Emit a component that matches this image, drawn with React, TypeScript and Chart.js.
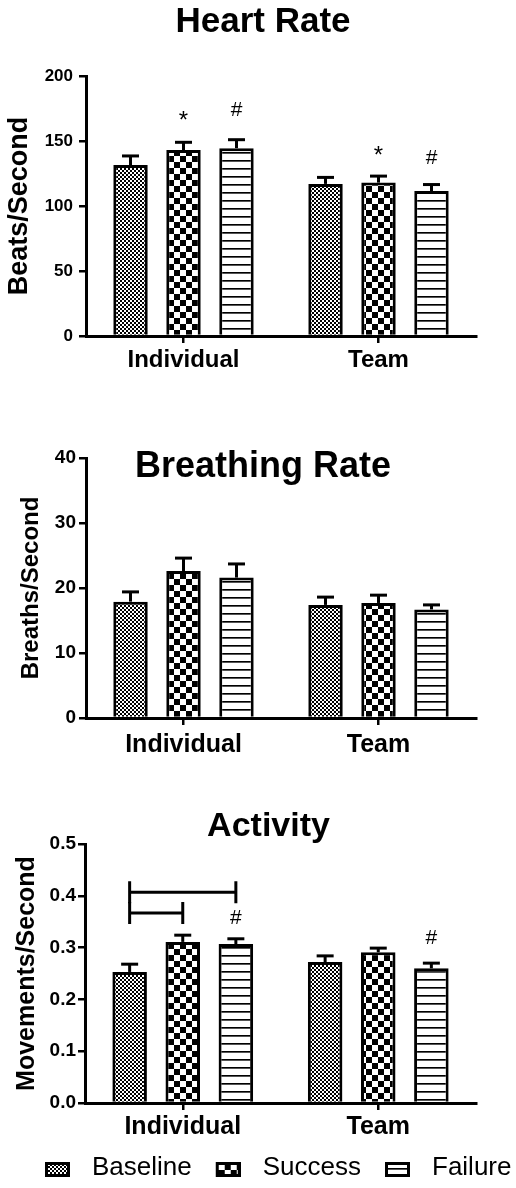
import React, { useEffect, useRef } from "react";
import { Chart, registerables } from "chart.js";

Chart.register(...registerables);

const FONT = "'Liberation Sans', Arial, Helvetica, sans-serif";

const categories = ["Individual", "Team"];
const seriesNames = ["Baseline", "Success", "Failure"];

// Heart rate
const hrBaseline = [131.5, 117];
const hrSuccess = [143, 118];
const hrFailure = [144.5, 111.5];
const hrBaselineErr = [7, 5];
const hrSuccessErr = [6, 5];
const hrFailureErr = [6.5, 5];
const hrTicks = [0, 50, 100, 150, 200];
const hrMarkers = [
  { series: 1, cat: 0, text: "*", value: 165 },
  { series: 2, cat: 0, text: "#", value: 174 },
  { series: 1, cat: 1, text: "*", value: 138 },
  { series: 2, cat: 1, text: "#", value: 137 },
];

// Breathing rate
const brBaseline = [17.9, 17.4];
const brSuccess = [22.6, 17.7];
const brFailure = [21.6, 16.7];
const brBaselineErr = [1.5, 1.2];
const brSuccessErr = [2.0, 1.2];
const brFailureErr = [2.1, 0.7];
const brTicks = [0, 10, 20, 30, 40];

// Activity
const acBaseline = [0.253, 0.272];
const acSuccess = [0.311, 0.291];
const acFailure = [0.307, 0.26];
const acBaselineErr = [0.015, 0.012];
const acSuccessErr = [0.013, 0.008];
const acFailureErr = [0.01, 0.01];
const acTicks = [0, 0.1, 0.2, 0.3, 0.4, 0.5];
const acMarkers = [
  { series: 2, cat: 0, text: "#", value: 0.357 },
  { series: 2, cat: 1, text: "#", value: 0.318 },
];
const acBrackets = [
  { cat: 0, from: 0, to: 1, value: 0.367 },
  { cat: 0, from: 0, to: 2, value: 0.407 },
];

type Marker = { series: number; cat: number; text: string; value: number };
type Bracket = { cat: number; from: number; to: number; value: number };

function makePatterns(): CanvasPattern[] {
  const mk = (w: number, h: number, draw: (g: CanvasRenderingContext2D) => void) => {
    const c = document.createElement("canvas");
    c.width = w;
    c.height = h;
    const g = c.getContext("2d")!;
    g.fillStyle = "#fff";
    g.fillRect(0, 0, w, h);
    g.fillStyle = "#000";
    draw(g);
    return g.createPattern(c, "repeat")!;
  };
  const fine = mk(4, 4, (g) => {
    g.fillRect(0, 0, 2, 2);
    g.fillRect(2, 2, 2, 2);
  });
  const coarse = mk(12, 12, (g) => {
    g.fillRect(0, 0, 6, 6);
    g.fillRect(6, 6, 6, 6);
  });
  const lines = mk(8, 8, (g) => {
    g.fillRect(0, 0, 8, 1);
    g.fillStyle = "#555";
    g.fillRect(0, 1, 8, 1);
  });
  return [fine, coarse, lines];
}

function legendImage(pattern: CanvasPattern) {
  const c = document.createElement("canvas");
  c.width = 40;
  c.height = 32;
  const g = c.getContext("2d")!;
  g.fillStyle = pattern;
  g.fillRect(15, 10, 25, 15);
  g.strokeStyle = "#000";
  g.lineWidth = 3;
  g.strokeRect(16.5, 11.5, 22, 12);
  return c;
}

function makeExtras(errors: number[][], markers: Marker[], brackets: Bracket[]) {
  return {
    id: "extras",
    afterDatasetsDraw(chart: any) {
      const ctx: CanvasRenderingContext2D = chart.ctx;
      const y = chart.scales.y;
      ctx.save();
      ctx.strokeStyle = "#000";
      ctx.lineWidth = 3;
      ctx.lineCap = "butt";
      errors.forEach((errs, di) => {
        const meta = chart.getDatasetMeta(di);
        meta.data.forEach((bar: any, i: number) => {
          const v = chart.data.datasets[di].data[i] as number;
          const yBar = y.getPixelForValue(v);
          const yTop = y.getPixelForValue(v + errs[i]);
          ctx.beginPath();
          ctx.moveTo(bar.x, yBar);
          ctx.lineTo(bar.x, yTop);
          ctx.stroke();
          ctx.beginPath();
          ctx.moveTo(bar.x - 8.5, yTop);
          ctx.lineTo(bar.x + 8.5, yTop);
          ctx.stroke();
        });
      });
      brackets.forEach((b) => {
        const x1 = chart.getDatasetMeta(b.from).data[b.cat].x;
        const x2 = chart.getDatasetMeta(b.to).data[b.cat].x;
        const yh = y.getPixelForValue(b.value);
        ctx.beginPath();
        ctx.moveTo(x1, yh);
        ctx.lineTo(x2, yh);
        ctx.moveTo(x1, yh - 11);
        ctx.lineTo(x1, yh + 11);
        ctx.moveTo(x2, yh - 11);
        ctx.lineTo(x2, yh + 11);
        ctx.stroke();
      });
      ctx.fillStyle = "#000";
      ctx.textAlign = "center";
      ctx.textBaseline = "middle";
      markers.forEach((m) => {
        const bar = chart.getDatasetMeta(m.series).data[m.cat];
        ctx.font = `${m.text === "*" ? 24 : 21}px ${FONT}`;
        ctx.fillText(m.text, bar.x, y.getPixelForValue(m.value));
      });
      ctx.restore();
    },
  };
}

type Cfg = {
  values: number[][];
  errors: number[][];
  ticks: number[];
  fmt?: (v: number) => string;
  title: string;
  titleSize: number;
  titlePad: { top: number; bottom: number };
  yTitle: string;
  yTitleSize: number;
  yTitlePad: number;
  padLeft: number;
  padBottom: number;
  yWidth: number;
  xHeight: number;
  tickSize: number;
  tickPad: number;
  catSize: number;
  catPad: number;
  markers: Marker[];
  brackets: Bracket[];
  legend?: boolean;
};

function buildConfig(c: Cfg, patterns: CanvasPattern[], images: HTMLCanvasElement[]): any {
  return {
    type: "bar",
    data: {
      labels: categories,
      datasets: seriesNames.map((name, i) => ({
        label: name,
        data: c.values[i],
        backgroundColor: patterns[i],
        borderColor: "#000",
        borderWidth: 3,
        borderSkipped: "start",
        categoryPercentage: 0.815,
        barPercentage: 0.65,
        yAxisID: "y",
      })),
    },
    options: {
      responsive: false,
      animation: false,
      devicePixelRatio: 1,
      layout: { padding: { left: c.padLeft, right: 0, top: 0, bottom: c.padBottom } },
      scales: {
        x: {
          type: "category",
          z: 1,
          grid: {
            display: true,
            drawOnChartArea: false,
            drawTicks: true,
            tickLength: 7,
            color: "#000",
            lineWidth: 2.5,
            offset: false,
          },
          border: { display: true, color: "#000", width: 3 },
          ticks: {
            color: "#000",
            font: { size: c.catSize, weight: "bold", family: FONT },
            padding: c.catPad,
            maxRotation: 0,
            autoSkip: false,
          },
          afterFit: (s: any) => {
            s.height = c.xHeight;
          },
        },
        y: {
          type: "linear",
          position: "left",
          min: c.ticks[0],
          max: c.ticks[c.ticks.length - 1],
          grid: {
            display: true,
            drawOnChartArea: false,
            drawTicks: true,
            tickLength: 7,
            color: "#000",
            lineWidth: 2.5,
          },
          border: { display: true, color: "#000", width: 3 },
          afterBuildTicks: (s: any) => {
            s.ticks = c.ticks.map((v) => ({ value: v }));
          },
          ticks: {
            color: "#000",
            font: { size: c.tickSize, weight: "bold", family: FONT },
            padding: c.tickPad,
            callback: (v: any) => (c.fmt ? c.fmt(Number(v)) : String(v)),
          },
          title: {
            display: true,
            text: c.yTitle,
            color: "#000",
            font: { size: c.yTitleSize, weight: "bold", family: FONT },
            padding: { top: c.yTitlePad, bottom: 0 },
          },
          afterFit: (s: any) => {
            s.width = c.yWidth;
          },
        },
        yR: {
          type: "linear",
          position: "right",
          display: true,
          grid: { display: false },
          border: { display: false },
          ticks: { display: false },
          afterFit: (s: any) => {
            s.width = 40;
          },
        },
      },
      plugins: {
        title: {
          display: true,
          text: c.title,
          color: "#000",
          font: { size: c.titleSize, weight: "bold", family: FONT },
          padding: c.titlePad,
        },
        tooltip: { enabled: false },
        legend: c.legend
          ? {
              display: true,
              position: "bottom",
              align: "start",
              labels: {
                usePointStyle: true,
                pointStyleWidth: 58,
                padding: 0,
                color: "#000",
                font: { size: 26, family: FONT },
                generateLabels: (chart: any) =>
                  chart.data.datasets.map((ds: any, i: number) => ({
                    text: ds.label,
                    fillStyle: "#fff",
                    strokeStyle: "#000",
                    lineWidth: 0,
                    pointStyle: images[i],
                    hidden: false,
                    datasetIndex: i,
                    fontColor: "#000",
                  })),
              },
            }
          : { display: false },
      },
    },
    plugins: [makeExtras(c.errors, c.markers, c.brackets)],
  };
}

export default function App() {
  const r1 = useRef<HTMLCanvasElement>(null);
  const r2 = useRef<HTMLCanvasElement>(null);
  const r3 = useRef<HTMLCanvasElement>(null);

  useEffect(() => {
    Chart.defaults.font.family = FONT;
    Chart.defaults.color = "#000";
    const patterns = makePatterns();
    const images = patterns.map((p) => legendImage(p));

    const c1 = new Chart(
      r1.current!,
      buildConfig(
        {
          values: [hrBaseline, hrSuccess, hrFailure],
          errors: [hrBaselineErr, hrSuccessErr, hrFailureErr],
          ticks: hrTicks,
          title: "Heart Rate",
          titleSize: 35,
          titlePad: { top: 1, bottom: 33 },
          yTitle: "Beats/Second",
          yTitleSize: 27,
          yTitlePad: -6.7,
          padLeft: 10,
          padBottom: 0,
          yWidth: 76,
          xHeight: 45,
          tickSize: 17,
          tickPad: 6,
          catSize: 24,
          catPad: 3,
          markers: hrMarkers,
          brackets: [],
        },
        patterns,
        images
      )
    );
    const c2 = new Chart(
      r2.current!,
      buildConfig(
        {
          values: [brBaseline, brSuccess, brFailure],
          errors: [brBaselineErr, brSuccessErr, brFailureErr],
          ticks: brTicks,
          title: "Breathing Rate",
          titleSize: 36,
          titlePad: { top: 64.4, bottom: -30.6 },
          yTitle: "Breaths/Second",
          yTitleSize: 24,
          yTitlePad: 7.3,
          padLeft: 10,
          padBottom: 0,
          yWidth: 76,
          xHeight: 45,
          tickSize: 19,
          tickPad: 3,
          catSize: 25,
          catPad: 5,
          markers: [],
          brackets: [],
        },
        patterns,
        images
      )
    );
    const c3 = new Chart(
      r3.current!,
      buildConfig(
        {
          values: [acBaseline, acSuccess, acFailure],
          errors: [acBaselineErr, acSuccessErr, acFailureErr],
          ticks: acTicks,
          fmt: (v) => v.toFixed(1),
          title: "Activity",
          titleSize: 34,
          titlePad: { top: 43.6, bottom: -3.4 },
          yTitle: "Movements/Second",
          yTitleSize: 25,
          yTitlePad: -8.5,
          padLeft: 21,
          padBottom: -3,
          yWidth: 64,
          xHeight: 52,
          tickSize: 19,
          tickPad: 2,
          catSize: 25,
          catPad: 2,
          markers: acMarkers,
          brackets: acBrackets,
          legend: true,
        },
        patterns,
        images
      )
    );
    return () => {
      c1.destroy();
      c2.destroy();
      c3.destroy();
    };
  }, []);

  return (
    <div style={{ position: "absolute", left: 0, top: 0, width: 516, height: 1188, background: "#fff" }}>
      <canvas ref={r1} width={516} height={381} style={{ position: "absolute", left: 0, top: 0 }} />
      <canvas ref={r2} width={516} height={382} style={{ position: "absolute", left: 0, top: 381 }} />
      <canvas ref={r3} width={516} height={425} style={{ position: "absolute", left: 0, top: 763 }} />
    </div>
  );
}
